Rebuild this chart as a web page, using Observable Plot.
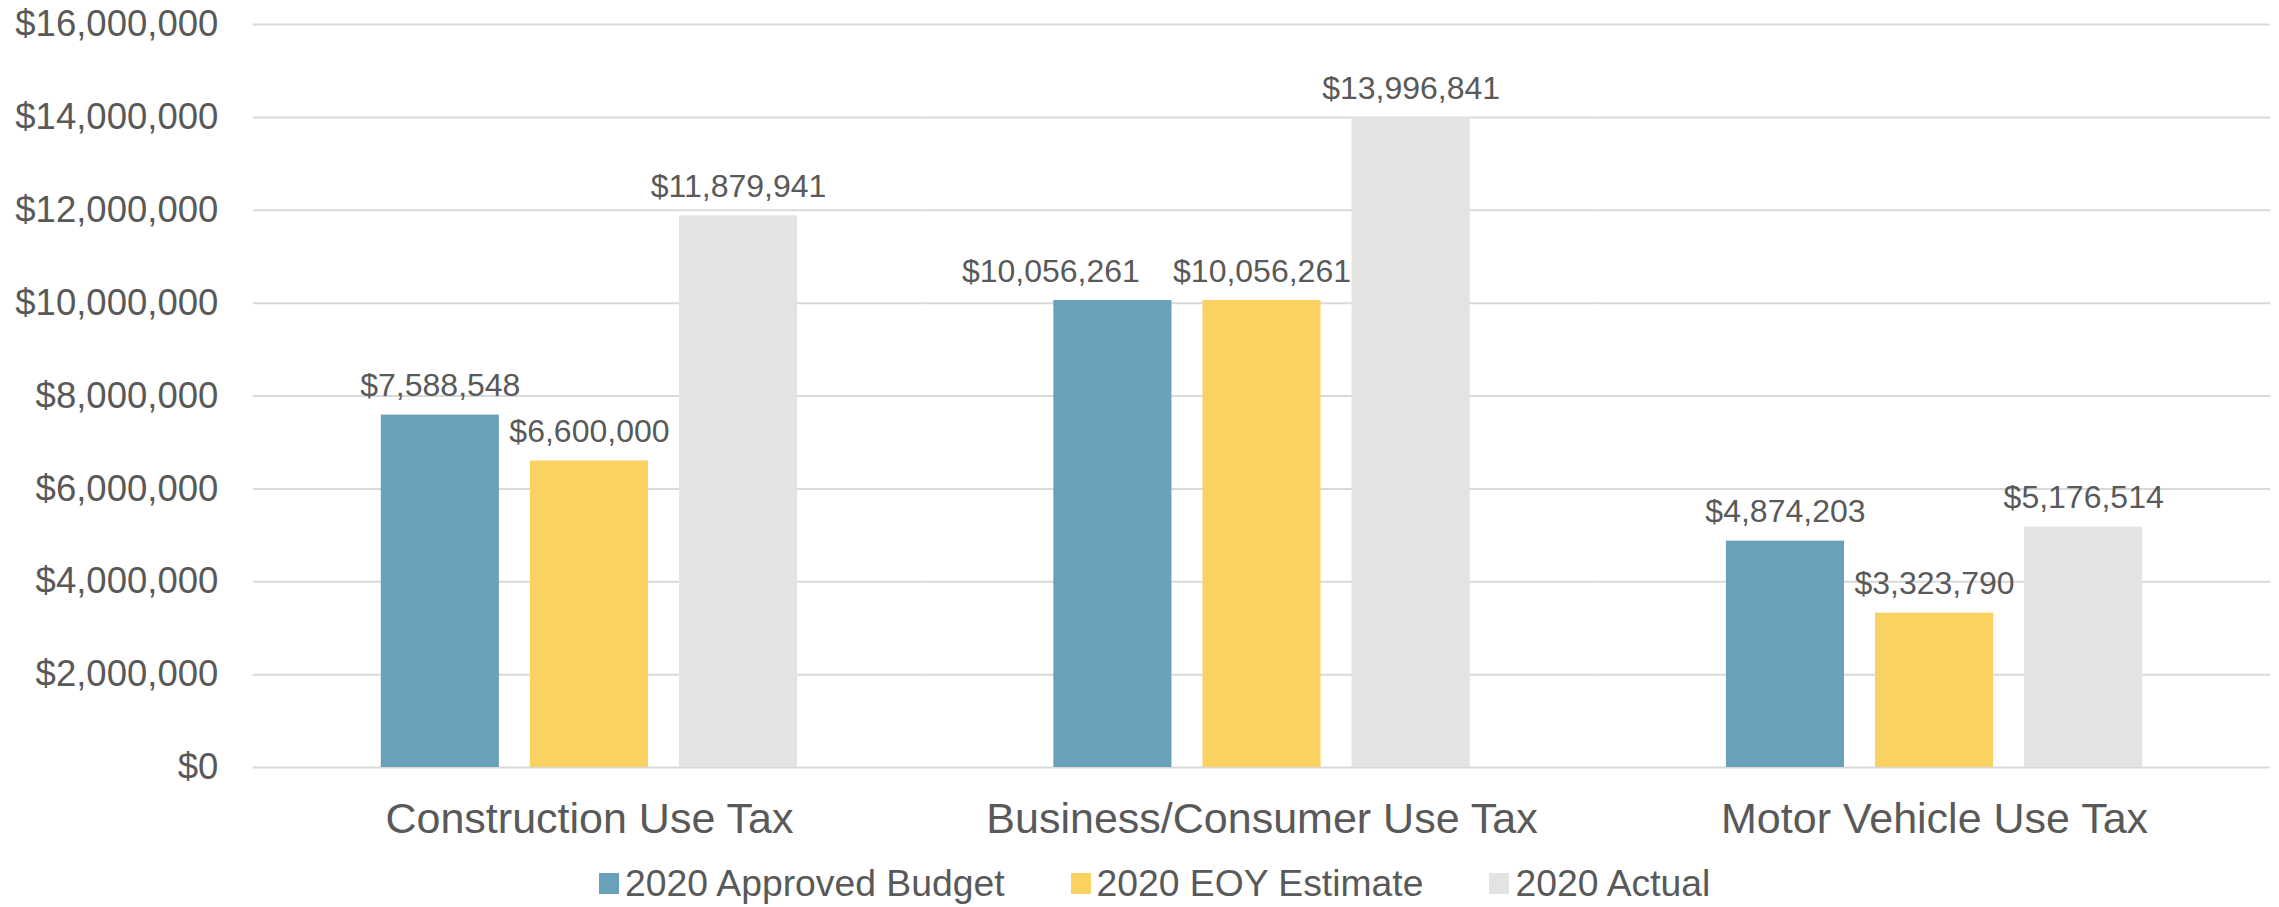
<!DOCTYPE html>
<html>
<head>
<meta charset="utf-8">
<script src="https://cdn.jsdelivr.net/npm/d3@7"></script>
<script src="https://cdn.jsdelivr.net/npm/@observablehq/plot@0.6"></script>
<style>
  html, body { margin: 0; padding: 0; background: #fff; overflow: hidden; }
  body { font-family: "Liberation Sans", Arial, sans-serif; color: #595959; }
  #legend { display: flex; align-items: center; height: 50px; padding-left: 599px; font-size: 37.3px; }
  .item { display: flex; align-items: center; margin-right: 66px; }
  .sw { width: 20px; height: 21px; margin-right: 6px; }
</style>
</head>
<body>
<div id="chart"></div>
<div id="legend"></div>
<script>
const categories = ["Construction Use Tax", "Business/Consumer Use Tax", "Motor Vehicle Use Tax"];
const series = ["2020 Approved Budget", "2020 EOY Estimate", "2020 Actual"];
const approvedBudget = [7588548, 10056261, 4874203];
const eoyEstimate = [6600000, 10056261, 3323790];
const actual = [11879941, 13996841, 5176514];
const yTicks = [0, 2000000, 4000000, 6000000, 8000000, 10000000, 12000000, 14000000, 16000000];
const colors = ["#68A1B9", "#F9D262", "#E3E3E1"];

const valuesBySeries = [approvedBudget, eoyEstimate, actual];
const data = [];
categories.forEach((c, i) => {
  series.forEach((s, j) => data.push({category: c, series: s, value: valuesBySeries[j][i]}));
});

const money = d3.format("$,.0f");
// the one data label that the original chart nudges left to avoid its neighbour
const isNudged = d => d.category === categories[1] && d.series === series[0];

const labelOpts = {fx: "category", x: "series", y: "value", text: d => money(d.value), lineAnchor: "bottom", dy: -19, fontSize: 32, fill: "#595959"};

const chart = Plot.plot({
  width: 2279,
  height: 858,
  marginTop: 24,
  marginBottom: 91,
  marginLeft: 253,
  marginRight: 9,
  style: {fontFamily: '"Liberation Sans", Arial, sans-serif', color: "#595959", background: "#fff"},
  fx: {domain: categories, paddingInner: 0.381, paddingOuter: 0.19, round: false, label: null},
  x: {domain: series, paddingInner: 0.208, paddingOuter: 0, round: false, axis: null},
  y: {domain: [0, 16000000], axis: null},
  color: {domain: series, range: colors},
  marks: [
    Plot.ruleY(yTicks, {stroke: "#D9D9D9", strokeWidth: 2, insetLeft: -128, insetRight: -128}),
    Plot.barY(data, {fx: "category", x: "series", y: "value", fill: "series"}),
    Plot.text(data, {...labelOpts, filter: d => !isNudged(d)}),
    Plot.text(data, {...labelOpts, filter: isNudged, dx: -62}),
    Plot.axisY(yTicks, {tickSize: 0, tickPadding: 35, dx: -128, tickFormat: money, fontSize: 36.5, color: "#595959", label: null}),
    Plot.axisFx({anchor: "bottom", tickSize: 0, tickPadding: 35, fontSize: 43, color: "#595959", label: null})
  ]
});
document.getElementById("chart").appendChild(chart);

const legend = document.getElementById("legend");
series.forEach((s, i) => {
  const item = document.createElement("div");
  item.className = "item";
  const sw = document.createElement("div");
  sw.className = "sw";
  sw.style.background = colors[i];
  const lab = document.createElement("span");
  lab.textContent = s;
  item.appendChild(sw);
  item.appendChild(lab);
  legend.appendChild(item);
});
</script>
</body>
</html>
